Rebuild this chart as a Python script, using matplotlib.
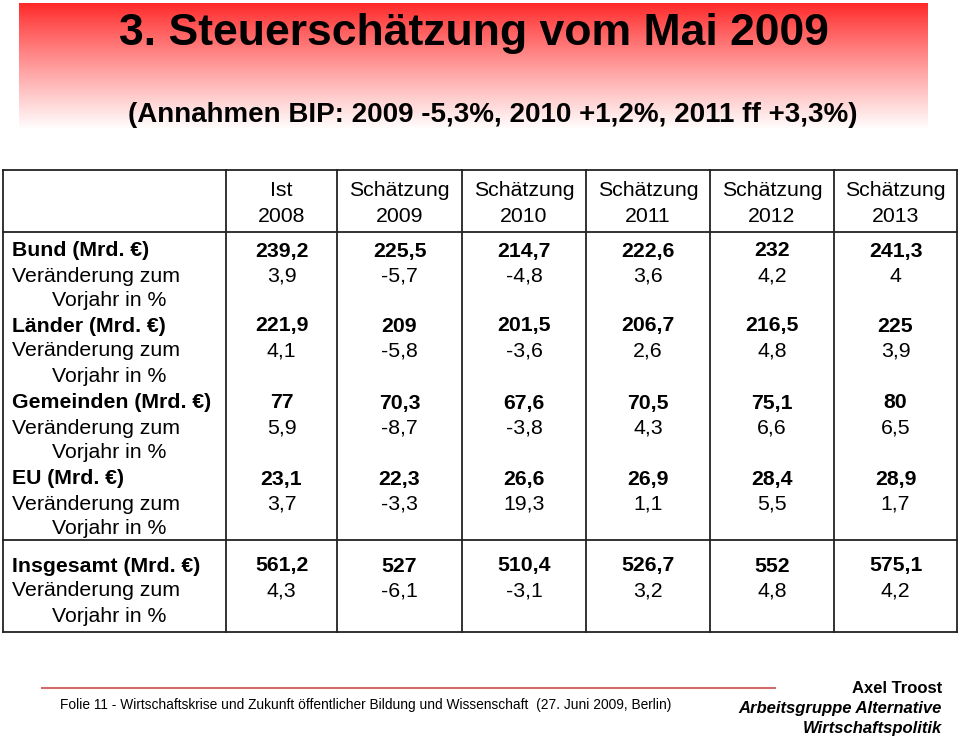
import numpy as np
import matplotlib.pyplot as plt

# ── Data ──────────────────────────────────────────────────────────────────────
col_kind = ['Ist', 'Schätzung', 'Schätzung', 'Schätzung', 'Schätzung', 'Schätzung']
col_year = ['2008', '2009', '2010', '2011', '2012', '2013']

row_labels = ['Bund (Mrd. €)', 'Länder (Mrd. €)', 'Gemeinden (Mrd. €)', 'EU (Mrd. €)',
              'Insgesamt (Mrd. €)']

bund       = [239.2, 225.5, 214.7, 222.6, 232, 241.3]
bund_chg   = [3.9, -5.7, -4.8, 3.6, 4.2, 4]
laender     = [221.9, 209, 201.5, 206.7, 216.5, 225]
laender_chg = [4.1, -5.8, -3.6, 2.6, 4.8, 3.9]
gemeinden     = [77, 70.3, 67.6, 70.5, 75.1, 80]
gemeinden_chg = [5.9, -8.7, -3.8, 4.3, 6.6, 6.5]
eu     = [23.1, 22.3, 26.6, 26.9, 28.4, 28.9]
eu_chg = [3.7, -3.3, 19.3, 1.1, 5.5, 1.7]
gesamt     = [561.2, 527, 510.4, 526.7, 552, 575.1]
gesamt_chg = [4.3, -6.1, -3.1, 3.2, 4.8, 4.2]

values  = [bund, laender, gemeinden, eu, gesamt]
changes = [bund_chg, laender_chg, gemeinden_chg, eu_chg, gesamt_chg]


def de(v):
    return f"{v:g}".replace('.', ',')


# ── Figure in pixel coordinates ───────────────────────────────────────────────
fig = plt.figure(figsize=(9.6, 7.39), dpi=100)
ax = fig.add_axes([0, 0, 1, 1])
ax.set_xlim(0, 960)
ax.set_ylim(739, 0)
ax.axis('off')

body = ['Liberation Sans', 'DejaVu Sans']

# red banner fading to white
grad = np.linspace(0, 1, 256) ** 0.9
rgba = np.zeros((256, 1, 4))
rgba[:, 0, 0] = 1.0
rgba[:, 0, 1] = 0.15
rgba[:, 0, 2] = 0.15
rgba[:, 0, 3] = 1 - grad
ax.imshow(rgba, extent=[19, 928, 130, 3], aspect='auto', zorder=0)

ax.text(474, 45, '3. Steuerschätzung vom Mai 2009', fontsize=32, fontweight='bold',
        family=body, ha='center', va='baseline')
ax.text(493, 122, '(Annahmen BIP: 2009 -5,3%, 2010 +1,2%, 2011 ff +3,3%)', fontsize=20,
        fontweight='bold', family=body, ha='center', va='baseline')

# ── Table grid ────────────────────────────────────────────────────────────────
lc = '#222222'
xs = [3, 226, 337, 462, 586, 710, 834, 957]
top, head_bot, sep, bot = 170, 232, 540, 632
for x in xs:
    ax.plot([x, x], [top, bot], color=lc, lw=1.3)
for y in [top, head_bot, sep, bot]:
    ax.plot([xs[0], xs[-1]], [y, y], color=lc, lw=1.3)

fs = 15.3
bl = 7.5  # baseline offset from row centre
centers = [(xs[i] + xs[i + 1]) / 2 for i in range(1, 7)]
for cx, k, yr in zip(centers, col_kind, col_year):
    ax.text(cx, 188 + bl, k, fontsize=fs, family=body, ha='center', va='baseline')
    ax.text(cx, 214 + bl, yr, fontsize=fs, family=body, ha='center', va='baseline')

row_y = [249, 324, 401, 477, 564]
for y0, lab, vals, chg in zip(row_y, row_labels, values, changes):
    ax.text(12, y0 + bl, lab, fontsize=fs, family=body, fontweight='bold',
            ha='left', va='baseline')
    ax.text(12, y0 + 25 + bl, 'Veränderung zum', fontsize=fs, family=body,
            ha='left', va='baseline')
    ax.text(52, y0 + 50 + bl, 'Vorjahr in %', fontsize=fs, family=body,
            ha='left', va='baseline')
    for cx, v, c in zip(centers, vals, chg):
        ax.text(cx, y0 + bl, de(v), fontsize=fs, family=body, fontweight='bold',
                ha='center', va='baseline')
        ax.text(cx, y0 + 25 + bl, de(c), fontsize=fs, family=body,
                ha='center', va='baseline')

# ── Footer ────────────────────────────────────────────────────────────────────
ax.plot([42, 775], [688, 688], color='#d06a6a', lw=1.5)
ax.text(60, 709, 'Folie 11 - Wirtschaftskrise und Zukunft öffentlicher Bildung und '
        'Wissenschaft  (27. Juni 2009, Berlin)', fontsize=9.9, family=body,
        ha='left', va='baseline')
ax.text(942, 693, 'Axel Troost', fontsize=12, family=body, fontweight='bold',
        ha='right', va='baseline')
ax.text(942, 713, 'Arbeitsgruppe Alternative', fontsize=12, family=body,
        fontweight='bold', style='italic', ha='right', va='baseline')
ax.text(942, 733, 'Wirtschaftspolitik', fontsize=12, family=body,
        fontweight='bold', style='italic', ha='right', va='baseline')

fig.savefig('out.png', dpi=100)
